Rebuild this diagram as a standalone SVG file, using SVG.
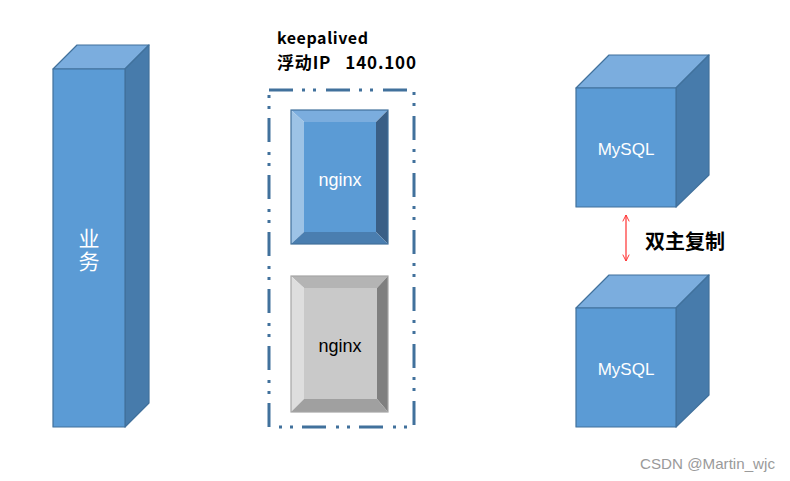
<svg xmlns="http://www.w3.org/2000/svg" width="790" height="481" viewBox="0 0 790 481">
<style>
.ol{stroke:#41719c;stroke-width:1.2;stroke-linejoin:round}
.front{fill:#5b9bd5}
.top{fill:#7badde}
.side{fill:#477bab}
.wt{fill:#ffffff;font-family:"Liberation Sans","Noto Sans CJK SC",sans-serif;text-anchor:middle}
.bk{fill:#000000;font-family:"Noto Sans CJK SC","Liberation Sans",sans-serif;font-weight:bold}
</style>
<defs>
<marker id="ah" viewBox="0 0 10 10" refX="9" refY="5" markerWidth="8" markerHeight="8" orient="auto-start-reverse" markerUnits="userSpaceOnUse">
<path d="M1,1 L9,5 L1,9" fill="none" stroke="#ff3030" stroke-width="1.2"/>
</marker>
</defs>
<rect width="790" height="481" fill="#ffffff"/>

<g id="yewu">
<polygon class="top ol" points="53,69 77,45 149,45 125,69"/>
<polygon class="side ol" points="125,69 149,45 149,403 125,427"/>
<rect class="front ol" x="53" y="69" width="72" height="358"/>
<text class="wt" x="89" y="246" font-size="21" font-family="Noto Sans CJK SC">业</text>
<text class="wt" x="89" y="269" font-size="21" font-family="Noto Sans CJK SC">务</text>
</g>

<g id="vip">
<rect x="269" y="90" width="145" height="337" fill="none" stroke="#41719c" stroke-width="3" stroke-dasharray="24 9 3 8 3 10"/>
<text class="bk" x="277" y="44" font-size="16" textLength="91">keepalived</text>
<text class="bk" x="277" y="69" font-size="17" xml:space="preserve" textLength="139">浮动IP   140.100</text>
</g>

<g id="nginx1">
<polygon fill="#7badde" points="291,110 388,110 376,122 304,122"/>
<polygon fill="#9dc3e6" points="291,110 304,122 304,232 291,244"/>
<polygon fill="#3a5f86" points="388,110 388,244 376,232 376,122"/>
<polygon fill="#4a7eb0" points="291,244 304,232 376,232 388,244"/>
<rect x="304" y="122" width="72" height="110" fill="#5b9bd5"/>
<rect x="291" y="110" width="97" height="134" fill="none" stroke="#41719c" stroke-width="1.2"/>
<text class="wt" x="340" y="186" font-size="18">nginx</text>
</g>

<g id="nginx2">
<polygon fill="#b4b4b4" points="291,276 388,276 377,288 304,288"/>
<polygon fill="#dedede" points="291,276 304,288 304,399 291,412"/>
<polygon fill="#7f7f7f" points="388,276 388,412 377,399 377,288"/>
<polygon fill="#a0a0a0" points="291,412 304,399 377,399 388,412"/>
<rect x="304" y="288" width="73" height="111" fill="#c9c9c9"/>
<rect x="291" y="276" width="97" height="136" fill="none" stroke="#a6a6a6" stroke-width="1.2"/>
<text x="340" y="352" font-size="18" fill="#000000" font-family="Liberation Sans, sans-serif" text-anchor="middle">nginx</text>
</g>

<g id="mysql1">
<polygon class="top ol" points="576,88 609,55 709,55 676,88"/>
<polygon class="side ol" points="676,88 709,55 709,175 676,207"/>
<rect class="front ol" x="576" y="88" width="100" height="119"/>
<text class="wt" x="626" y="155" font-size="17">MySQL</text>
</g>

<g id="mysql2">
<polygon class="top ol" points="576,308 609,275 709,275 676,308"/>
<polygon class="side ol" points="676,308 709,275 709,395 676,427"/>
<rect class="front ol" x="576" y="308" width="100" height="119"/>
<text class="wt" x="626" y="375" font-size="17">MySQL</text>
</g>

<g id="connectors">
<line x1="626" y1="215" x2="626" y2="261" stroke="#ff3030" stroke-width="1.2" marker-start="url(#ah)" marker-end="url(#ah)"/>
</g>

<text class="bk" x="645" y="249" font-size="20">双主复制</text>
<text x="640" y="469" font-size="14.5" fill="#9a9a9a" font-family="Liberation Sans, sans-serif" textLength="135" lengthAdjust="spacingAndGlyphs">CSDN @Martin_wjc</text>
</svg>
